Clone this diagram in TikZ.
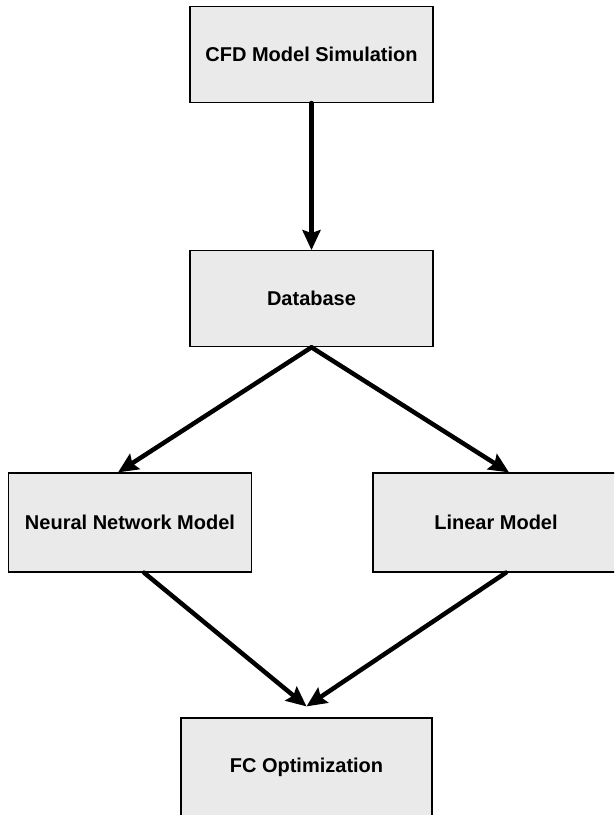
\documentclass[tikz,border=0pt]{standalone}
\usepackage{fontspec}
\setmainfont{Liberation Sans}
\usepackage{tikz}
\usetikzlibrary{positioning,arrows.meta}
\usepackage{xcolor}
\definecolor{boxfill}{RGB}{234,234,234}

\begin{document}
\begin{tikzpicture}[
  x=1pt, y=-1pt,
  block/.style={draw=black, line width=1.2pt, fill=boxfill,
    minimum width=243pt, minimum height=96pt, inner sep=0pt,
    font=\fontsize{20}{24}\selectfont\bfseries},
  flow/.style={line width=4.5pt, line cap=round,
    -{Stealth[length=20pt,width=18pt,inset=3pt]}}
]
\useasboundingbox (0,0) rectangle (614,815);
\clip (0,0) rectangle (614,815);
\node[block] (cfd) at (311.5,54.5) {CFD Model Simulation};
\node[block, below=147pt of cfd] (db) {Database};
\node[block, minimum height=99pt] (nn) at (130,522.5) {Neural Network Model};
\node[block, minimum height=99pt, minimum width=246pt] (lin) at (496,522.5) {Linear Model};
\node[block, minimum height=98pt, minimum width=251pt] (fc) at (306.5,767) {FC Optimization};

\draw[flow] (cfd.south) -- (db.north);
\draw[flow] (db.south) -- ([xshift=-12pt]nn.north);
\draw[flow] (db.south) -- ([xshift=13pt]lin.north);
\draw[flow] ([xshift=14pt]nn.south) -- ([yshift=11pt]fc.north);
\draw[flow] ([xshift=10pt]lin.south) -- ([yshift=11pt]fc.north);
\end{tikzpicture}
\end{document}
